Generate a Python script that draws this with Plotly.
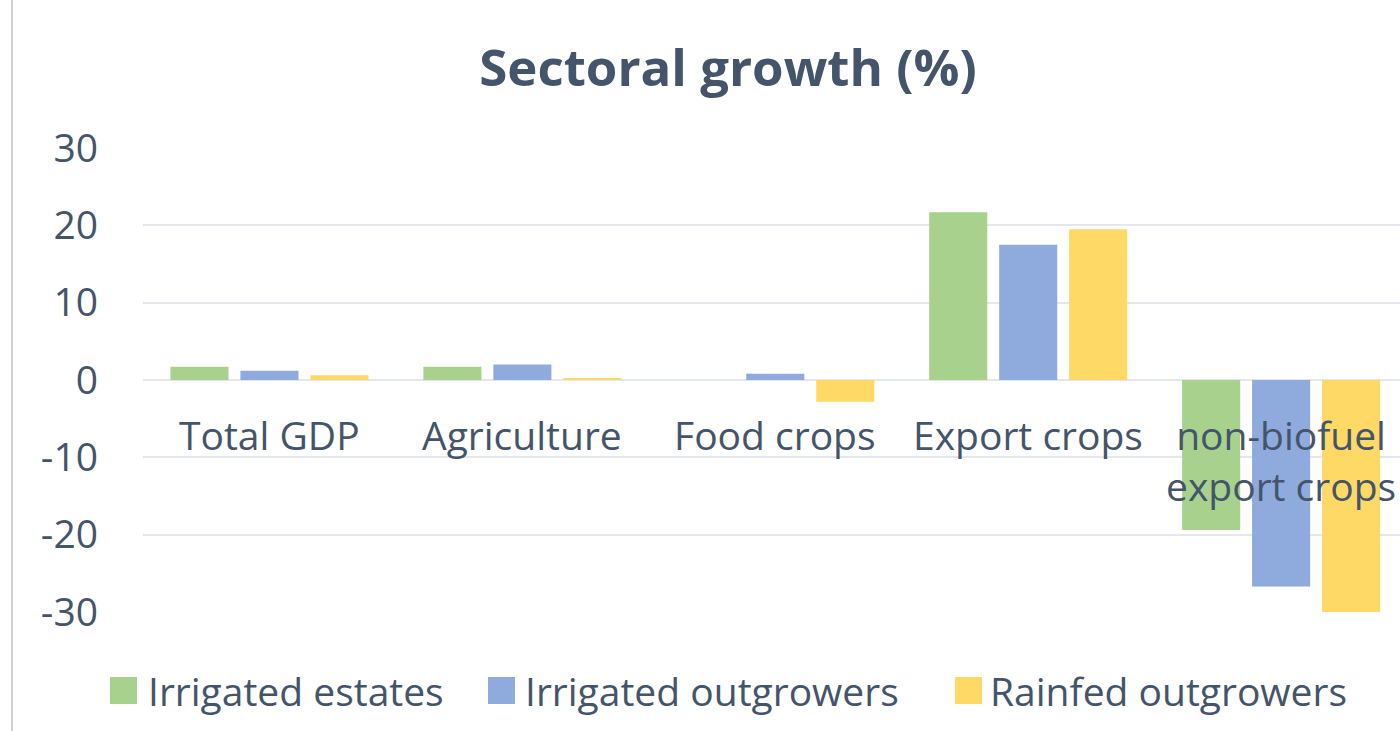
import plotly.graph_objects as go

# Sectoral growth by scheme type (percent)
categories = ["Total GDP", "Agriculture", "Food crops", "Export crops", "non-biofuel<br>export crops"]
series_names = ["Irrigated estates", "Irrigated outgrowers", "Rainfed outgrowers"]
irrigated_estates = [1.7, 1.7, 0.0, 21.7, -19.4]
irrigated_outgrowers = [1.2, 2.0, 0.8, 17.5, -26.7]
rainfed_outgrowers = [0.6, 0.2, -2.8, 19.5, -30.0]
y_tick_vals = [-30, -20, -10, 0, 10, 20, 30]
y_tick_text = ["-30", "-20", "-10", "0", "10", "20", "30"]

colors = ["#A9D18E", "#8FAADC", "#FFD966"]
text_color = "#44546A"
font_family = "Open Sans, sans-serif"
label_size = 39

W, H = 1400, 731
M_L, M_R, M_T, M_B = 143, 0, 148, 119
plot_w = W - M_L - M_R
plot_h = H - M_T - M_B


def px_x(px):
    return (px - M_L) / plot_w


def px_y(py):
    return (H - M_B - py) / plot_h


fig = go.Figure()
x_idx = list(range(len(categories)))
for name, vals, col in zip(series_names, [irrigated_estates, irrigated_outgrowers, rainfed_outgrowers], colors):
    fig.add_trace(go.Bar(
        x=x_idx, y=vals, name=name, marker=dict(color=col, line=dict(width=0)),
        showlegend=False,
    ))

# category labels sit just below the zero line
for i, cat in enumerate(categories):
    n_lines = cat.count("<br>") + 1
    fig.add_annotation(
        x=i, y=-7.1 - 3.2 * (n_lines - 1), xref="x", yref="y", text=cat, showarrow=False,
        yanchor="middle", xanchor="center",
        font=dict(family=font_family, size=label_size, color=text_color),
    )

# legend drawn as large swatches with labels beneath the plot
legend_swatch_left = [110, 488, 955]
legend_text_left = [146, 523, 988]
for name, col, sx, tx in zip(series_names, colors, legend_swatch_left, legend_text_left):
    fig.add_shape(type="rect", xref="paper", yref="paper",
                  x0=px_x(sx), x1=px_x(sx + 27), y0=px_y(704), y1=px_y(677),
                  fillcolor=col, line=dict(width=0))
    fig.add_annotation(xref="paper", yref="paper", x=px_x(tx), y=px_y(690),
                       xanchor="left", yanchor="middle", showarrow=False, text=name,
                       font=dict(family=font_family, size=label_size, color=text_color))

# chart border on the left
fig.add_shape(type="line", xref="paper", yref="paper", x0=px_x(12), x1=px_x(12),
              y0=px_y(H), y1=px_y(0), line=dict(color="#BFBFBF", width=1.5))

fig.update_layout(
    width=W, height=H,
    margin=dict(l=M_L, r=M_R, t=M_T, b=M_B),
    paper_bgcolor="white", plot_bgcolor="white",
    barmode="group", bargap=0.17, bargroupgap=0.17,
    font=dict(family=font_family, color=text_color),
    showlegend=False,
    title=dict(text="<b>Sectoral growth (%)</b>", x=0.52, xanchor="center",
               y=1 - 68 / H, yanchor="middle",
               font=dict(family=font_family, size=51, color=text_color)),
    xaxis=dict(range=[-0.5, 4.47], showticklabels=False, showgrid=False,
               zeroline=False, showline=False, fixedrange=True),
    yaxis=dict(range=[-30, 30], tickvals=y_tick_vals, ticktext=y_tick_text, showgrid=True,
               gridcolor="#E4E7EC", gridwidth=1.5, zeroline=True, zerolinecolor="#E4E7EC",
               zerolinewidth=1.5, showline=False, ticks="",
               ticklabelstandoff=44,
               tickfont=dict(family=font_family, size=label_size, color=text_color)),
)

fig.write_html("out.html")
